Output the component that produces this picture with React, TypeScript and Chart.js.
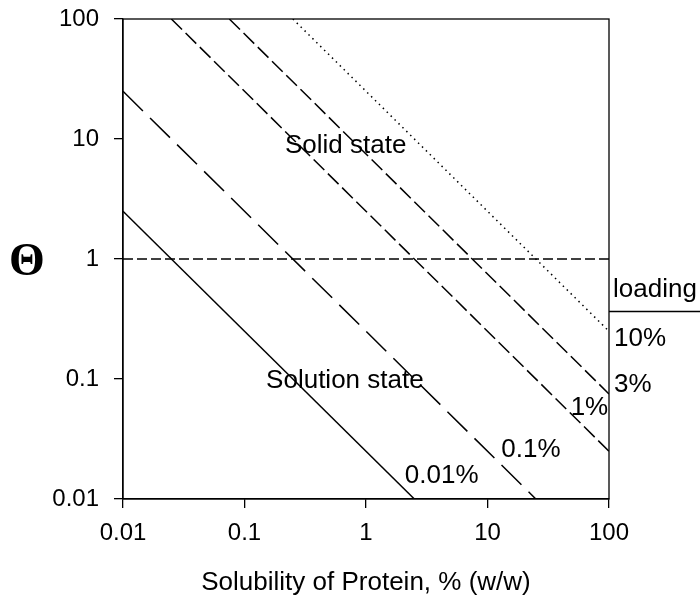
import React, { useEffect, useRef } from "react";
import { Chart, registerables } from "chart.js";

Chart.register(...registerables);

// Axis ticks
const tickValues = [0.01, 0.1, 1, 10, 100];
const tickLabels = ["0.01", "0.1", "1", "10", "100"];

// Lines (endpoints): Θ vs solubility for each protein loading
const load001X = [0.01, 2.5];
const load001Y = [2.5, 0.01];
const load01X = [0.01, 25];
const load01Y = [25, 0.01];
const load1X = [0.025, 100];
const load1Y = [100, 0.025];
const load3X = [0.075, 100];
const load3Y = [100, 0.075];
const load10X = [0.25, 100];
const load10Y = [100, 0.25];
const boundaryX = [0.01, 100];
const boundaryY = [1, 1];

// Annotation labels and their data positions
const annoTexts = ["Solid state", "Solution state", "0.01%", "0.1%", "1%"];
const annoX = [0.68, 0.67, 4.2, 22.8, 69];
const annoY = [8.7, 0.096, 0.0156, 0.0256, 0.057];

const sideTexts = ["loading", "10%", "3%"];
const sideX = [108, 110, 110];
const sideY = [0.55, 0.215, 0.089];
const loadingRuleY = 0.37;

const xTitle = "Solubility of Protein, % (w/w)";
const yTitle = "Θ";

const zip = (xs: number[], ys: number[]) => xs.map((x, i) => ({ x, y: ys[i] }));

export default function App() {
  const ref = useRef<HTMLCanvasElement | null>(null);

  useEffect(() => {
    document.body.style.margin = "0";
    const canvas = ref.current;
    if (!canvas) return;

    const overlay = {
      id: "overlay",
      afterDraw(chart: any) {
        const { ctx, chartArea, scales } = chart;
        const xs = scales.x;
        const ys = scales.y;
        ctx.save();
        // plot frame
        ctx.strokeStyle = "#000";
        ctx.lineWidth = 1.3;
        ctx.strokeRect(chartArea.left, chartArea.top, chartArea.right - chartArea.left, chartArea.bottom - chartArea.top);

        ctx.fillStyle = "#000";
        ctx.font = "26px 'Liberation Sans', Arial, sans-serif";
        ctx.textBaseline = "middle";
        ctx.textAlign = "center";
        annoTexts.forEach((t, i) => {
          ctx.fillText(t, xs.getPixelForValue(annoX[i]), ys.getPixelForValue(annoY[i]));
        });
        ctx.textAlign = "left";
        sideTexts.forEach((t, i) => {
          ctx.fillText(t, xs.getPixelForValue(sideX[i]), ys.getPixelForValue(sideY[i]));
        });
        // rule under "loading"
        const ry = Math.round(ys.getPixelForValue(loadingRuleY)) + 0.5;
        ctx.beginPath();
        ctx.moveTo(chartArea.right, ry);
        ctx.lineTo(chart.width, ry);
        ctx.lineWidth = 1.3;
        ctx.stroke();

        // axis titles
        ctx.textAlign = "center";
        ctx.textBaseline = "alphabetic";
        ctx.fillText(xTitle, (chartArea.left + chartArea.right) / 2, 590);
        ctx.font = "bold 46px 'Liberation Serif', 'Times New Roman', serif";
        ctx.fillText(yTitle, 27, 275);
        ctx.restore();
      },
    };

    const lineDs = (data: any[], dash: number[], width = 1.5) => ({
      data,
      showLine: true,
      borderColor: "#000",
      borderWidth: width,
      borderDash: dash,
      pointRadius: 0,
      fill: false,
      tension: 0,
    });

    const chart = new Chart(canvas, {
      type: "scatter",
      data: {
        datasets: [
          lineDs(zip(load001X, load001Y), []),
          lineDs(zip(load01X, load01Y), [28, 10]),
          lineDs(zip(load1X, load1Y), [15, 5]),
          lineDs(zip(load3X, load3Y), [15, 5]),
          lineDs(zip(load10X, load10Y), [1.5, 4], 1.5),
          lineDs(zip(boundaryX, boundaryY), [10, 4], 1.4),
        ] as any,
      },
      options: {
        animation: false,
        responsive: false,
        maintainAspectRatio: false,
        layout: { padding: { left: 0, right: 91, top: 19, bottom: 0 } },
        plugins: { legend: { display: false }, tooltip: { enabled: false } },
        scales: {
          x: {
            type: "logarithmic",
            min: 0.01,
            max: 100,
            afterBuildTicks: (s: any) => {
              s.ticks = tickValues.map((v) => ({ value: v }));
            },
            afterFit: (s: any) => {
              s.height = 98;
              s.paddingLeft = 0;
              s.paddingRight = 0;
            },
            ticks: {
              autoSkip: false,
              maxRotation: 0,
              padding: 11,
              color: "#000",
              font: { family: "'Liberation Sans', Arial, sans-serif", size: 24 },
              callback: (v: any) => {
                const i = tickValues.indexOf(Number(v));
                return i >= 0 ? tickLabels[i] : "";
              },
            },
            grid: { drawOnChartArea: false, drawTicks: true, tickLength: 9, color: "#000", lineWidth: 1.3 },
            border: { display: true, color: "#000", width: 1.3 },
          },
          y: {
            type: "logarithmic",
            min: 0.01,
            max: 100,
            afterBuildTicks: (s: any) => {
              s.ticks = tickValues.map((v) => ({ value: v }));
            },
            afterFit: (s: any) => {
              s.width = 123;
              s.paddingTop = 0;
              s.paddingBottom = 0;
            },
            ticks: {
              autoSkip: false,
              padding: 15,
              color: "#000",
              font: { family: "'Liberation Sans', Arial, sans-serif", size: 24 },
              callback: (v: any) => {
                const i = tickValues.indexOf(Number(v));
                return i >= 0 ? tickLabels[i] : "";
              },
            },
            grid: { drawOnChartArea: false, drawTicks: true, tickLength: 9, color: "#000", lineWidth: 1.3 },
            border: { display: true, color: "#000", width: 1.3 },
          },
        },
      },
      plugins: [overlay],
    });

    return () => chart.destroy();
  }, []);

  return (
    <div style={{ width: 700, height: 597, background: "#fff" }}>
      <canvas ref={ref} width={700} height={597} style={{ display: "block" }} />
    </div>
  );
}
